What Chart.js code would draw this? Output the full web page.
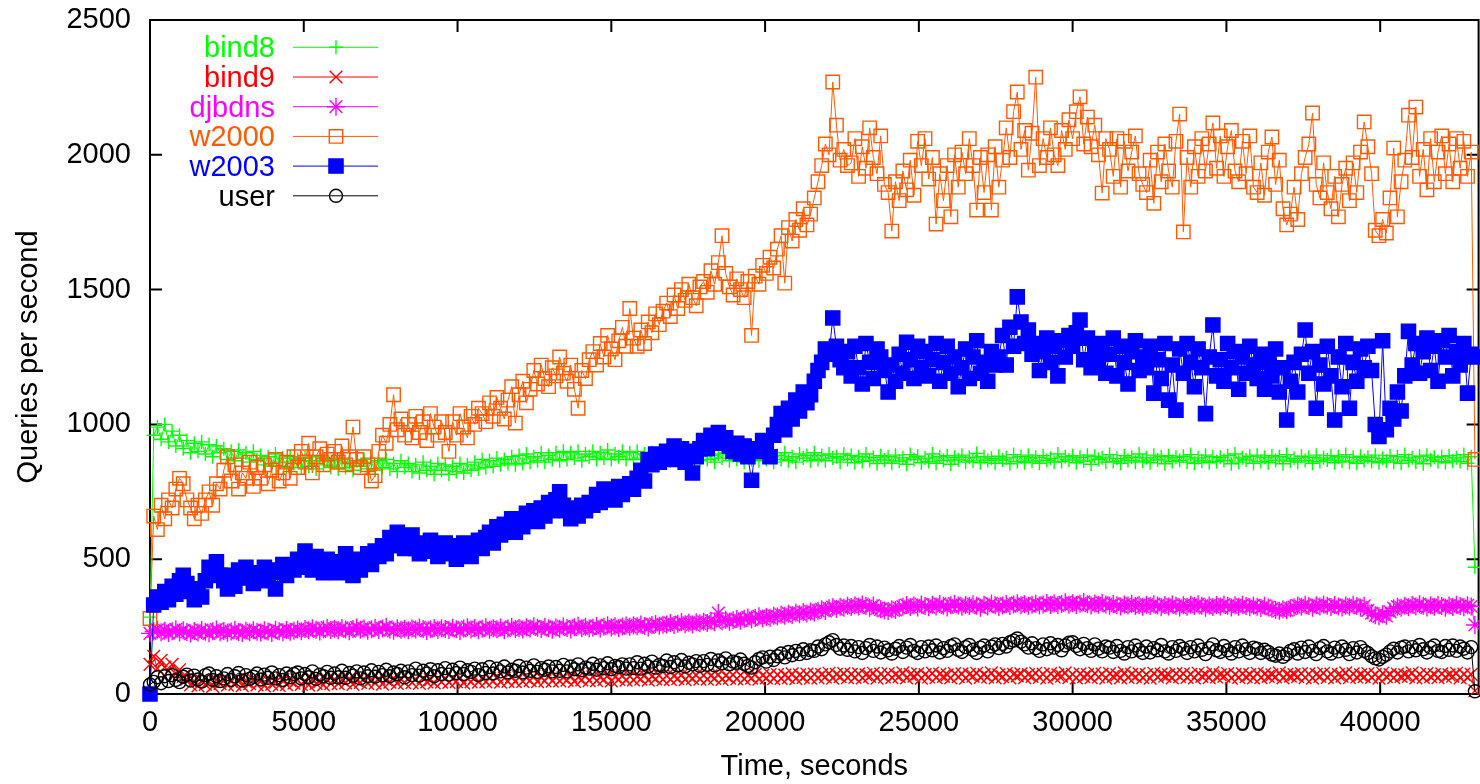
<!DOCTYPE html>
<html>
<head>
<meta charset="utf-8">
<title>DNS queries per second</title>
<script src="https://cdn.jsdelivr.net/npm/chart.js@4.4.1/dist/chart.umd.min.js"></script>
<style>
  html, body { margin: 0; padding: 0; background: #fff; overflow: hidden; }
  #wrap { width: 1490px; height: 784px; }
</style>
</head>
<body>
<div id="wrap"><canvas id="chart" width="1490" height="784"></canvas></div>
<script>
// one sample every 120 s
const sampleStep = 120;
const timeTicks = [0, 5000, 10000, 15000, 20000, 25000, 30000, 35000, 40000];
const rateTicks = [0, 500, 1000, 1500, 2000, 2500];
const seriesNames = ['bind8', 'bind9', 'djbdns', 'w2000', 'w2003', 'user'];

const bind8 = [
  285, 960, 990, 945, 1000, 935, 975, 920, 960, 910,
  940, 895, 930, 900, 935, 890, 925, 880, 920, 895,
  910, 870, 900, 865, 905, 875, 895, 860, 900, 870,
  885, 850, 880, 845, 890, 860, 875, 840, 880, 855,
  870, 840, 875, 845, 865, 835, 880, 850, 870, 840,
  865, 835, 870, 840, 860, 830, 865, 845, 870, 835,
  860, 830, 865, 840, 870, 835, 855, 825, 865, 840,
  855, 825, 850, 820, 860, 830, 845, 815, 855, 830,
  850, 815, 845, 825, 855, 820, 850, 830, 860, 835,
  870, 840, 865, 845, 875, 850, 870, 855, 880, 850,
  885, 855, 890, 860, 880, 865, 895, 860, 885, 870,
  895, 865, 900, 870, 895, 875, 900, 865, 890, 880,
  900, 870, 895, 875, 905, 870, 890, 880, 900, 870,
  895, 870, 900, 875, 890, 865, 895, 880, 900, 870,
  890, 865, 895, 870, 885, 860, 895, 875, 890, 865,
  895, 870, 885, 860, 890, 875, 895, 865, 885, 870,
  890, 860, 885, 870, 895, 865, 880, 870, 890, 860,
  885, 870, 895, 865, 880, 860, 890, 875, 885, 865,
  895, 870, 885, 865, 890, 875, 880, 860, 890, 870,
  885, 858, 880, 862, 890, 866, 878, 855, 884, 868,
  880, 856, 886, 864, 876, 852, 888, 870, 882, 858,
  875, 862, 890, 856, 880, 866, 884, 852, 878, 868,
  886, 860, 878, 864, 892, 858, 880, 866, 874, 856,
  882, 868, 876, 854, 888, 862, 880, 858, 886, 864,
  878, 856, 884, 866, 874, 860, 890, 862, 880, 868,
  884, 858, 878, 864, 886, 852, 882, 870, 876, 860,
  888, 862, 874, 856, 884, 866, 878, 860, 890, 864,
  876, 858, 886, 868, 880, 854, 884, 862, 878, 866,
  882, 860, 888, 856, 876, 864, 886, 858, 880, 862,
  878, 866, 884, 854, 890, 860, 876, 868, 882, 856,
  886, 862, 878, 858, 884, 866, 880, 854, 888, 864,
  874, 860, 882, 866, 878, 856, 886, 862, 876, 868,
  884, 858, 880, 864, 888, 860, 878, 856, 882, 866,
  878, 862, 886, 858, 874, 864, 884, 860, 880, 856,
  888, 866, 876, 860, 882, 854, 886, 868, 878, 862,
  880, 858, 884, 864, 876, 862, 888, 856, 880, 470
];

const bind9 = [
  110, 140, 95, 125, 100, 85, 110, 75, 90, 65,
  55, 34, 48, 30, 50, 36, 46, 28, 52, 38,
  50, 33, 47, 36, 54, 31, 45, 38, 52, 34,
  48, 30, 51, 37, 44, 32, 53, 35, 49, 40,
  52, 36, 49, 33, 55, 39, 46, 34, 54, 38,
  55, 38, 52, 41, 57, 36, 50, 43, 56, 39,
  54, 40, 58, 37, 52, 44, 59, 39, 55, 42,
  57, 42, 55, 39, 60, 45, 53, 41, 58, 44,
  59, 43, 56, 46, 61, 40, 57, 45, 62, 44,
  60, 45, 58, 48, 63, 44, 59, 47, 64, 46,
  62, 47, 60, 50, 65, 46, 61, 49, 66, 48,
  63, 49, 61, 51, 66, 47, 62, 52, 67, 50,
  64, 50, 62, 53, 68, 49, 63, 54, 67, 51,
  66, 52, 64, 55, 70, 51, 65, 56, 69, 53,
  68, 54, 66, 57, 71, 53, 67, 58, 70, 55,
  69, 55, 67, 58, 72, 54, 68, 59, 71, 56,
  70, 56, 68, 59, 73, 55, 69, 60, 72, 57,
  72, 58, 70, 61, 75, 57, 71, 62, 74, 59,
  74, 60, 72, 63, 77, 59, 73, 64, 76, 61,
  73, 62, 75, 60, 71, 65, 77, 59, 74, 63,
  76, 61, 72, 64, 78, 60, 73, 66, 75, 59,
  72, 63, 77, 61, 74, 65, 71, 60, 76, 64,
  75, 59, 73, 66, 77, 62, 72, 63, 78, 60,
  71, 64, 76, 60, 73, 67, 75, 61, 72, 65,
  77, 62, 74, 59, 76, 63, 71, 66, 78, 61,
  73, 60, 75, 64, 72, 61, 77, 63, 74, 59,
  76, 65, 71, 60, 78, 62, 73, 64, 75, 61,
  72, 59, 77, 63, 74, 66, 71, 60, 76, 64,
  75, 62, 73, 60, 77, 65, 72, 61, 78, 63,
  71, 66, 76, 59, 73, 62, 75, 64, 72, 60,
  77, 61, 74, 65, 71, 63, 78, 60, 73, 66,
  72, 64, 76, 61, 75, 59, 73, 65, 77, 62,
  74, 60, 72, 66, 78, 61, 75, 63, 71, 64,
  76, 62, 73, 59, 77, 64, 72, 61, 74, 65,
  71, 65, 78, 60, 73, 62, 76, 64, 72, 61,
  75, 63, 71, 66, 77, 60, 74, 62, 73, 12
];

const djbdns = [
  225, 232, 238, 229, 235, 226, 233, 240, 228, 236,
  230, 224, 234, 228, 237, 231, 225, 233, 239, 229,
  234, 227, 232, 238, 230, 226, 235, 229, 236, 231,
  228, 236, 232, 226, 238, 233, 229, 237, 231, 235,
  239, 233, 241, 236, 244, 238, 232, 240, 246, 237,
  242, 236, 245, 239, 233, 241, 247, 238, 243, 235,
  240, 246, 237, 243, 249, 239, 235, 244, 238, 242,
  236, 243, 239, 247, 241, 234, 240, 245, 238, 244,
  241, 237, 246, 240, 234, 243, 248, 239, 245, 236,
  242, 248, 238, 244, 240, 247, 236, 243, 249, 241,
  245, 239, 248, 243, 251, 246, 240, 249, 244, 238,
  247, 242, 250, 245, 239, 248, 253, 244, 249, 243,
  246, 252, 243, 249, 255, 247, 251, 244, 250, 254,
  249, 255, 251, 258, 252, 247, 256, 260, 253, 257,
  258, 263, 256, 261, 267, 259, 264, 258, 266, 262,
  268, 263, 272, 266, 300, 270, 275, 268, 274, 278,
  272, 279, 284, 276, 282, 288, 280, 286, 283, 290,
  287, 294, 290, 298, 293, 301, 296, 304, 299, 306,
  302, 309, 314, 308, 318, 322, 315, 324, 320, 327,
  323, 329, 325, 332, 326, 320, 328, 318, 314, 310,
  308, 314, 312, 319, 324, 330, 323, 328, 321, 332,
  326, 322, 331, 325, 334, 327, 321, 329, 335, 328,
  324, 330, 326, 333, 327, 320, 331, 325, 336, 329,
  323, 328, 334, 326, 332, 337, 329, 333, 327, 331,
  335, 328, 332, 338, 330, 336, 329, 334, 340, 331,
  337, 330, 335, 341, 333, 328, 336, 331, 338, 332,
  327, 334, 329, 325, 332, 328, 335, 326, 330, 324,
  331, 326, 333, 328, 322, 330, 325, 332, 327, 321,
  329, 324, 331, 326, 333, 327, 320, 328, 323, 330,
  325, 332, 327, 321, 329, 324, 331, 326, 322, 328,
  324, 319, 327, 321, 316, 312, 309, 314, 311, 318,
  322, 328, 324, 331, 326, 320, 329, 325, 332, 327,
  323, 330, 325, 321, 328, 324, 331, 326, 320, 327,
  310, 300, 292, 288, 296, 290, 305, 318, 324, 320,
  327, 322, 330, 325, 333, 327, 321, 329, 324, 331,
  326, 320, 328, 323, 331, 326, 322, 329, 325, 256
];

const w2000 = [
  280, 660, 610, 700, 650, 720, 690, 760, 800, 780,
  720, 690, 650, 700, 670, 720, 750, 700, 780, 760,
  830, 880, 790, 850, 760, 820, 800, 860, 770, 840,
  800, 850, 780, 830, 870, 790, 820, 860, 800, 880,
  840, 900, 860, 930, 820, 880, 910, 850, 890, 870,
  900, 860, 920, 850, 880, 990, 870, 840, 880, 850,
  790, 810, 900, 960, 930, 1000, 1110, 980, 1020, 960,
  1000, 950, 1030, 970, 1010, 940, 1040, 990, 960, 1010,
  970, 900, 1010, 960, 1040, 990, 950, 1030, 1000, 1060,
  1040, 1010, 1080, 1030, 1100, 1060, 1020, 1090, 1140, 1005,
  1110, 1160, 1080, 1130, 1200, 1150, 1220, 1170, 1140, 1210,
  1180, 1250, 1190, 1160, 1220, 1130, 1060, 1200, 1170, 1240,
  1270, 1220, 1300, 1250, 1330, 1280, 1240, 1310, 1360, 1290,
  1430, 1320, 1290, 1350, 1300, 1380, 1340, 1410, 1370, 1420,
  1450, 1400, 1480, 1430, 1500, 1460, 1520, 1470, 1440, 1510,
  1530, 1490, 1570, 1520, 1600, 1700, 1560, 1510, 1480, 1540,
  1500, 1470, 1530, 1330, 1550, 1520, 1590, 1560, 1620, 1580,
  1650, 1700, 1524, 1730, 1680, 1760, 1720, 1800, 1740, 1780,
  1840, 1900, 1960, 2040, 2000, 2270, 2110, 1980, 2020, 1960,
  1970, 2060, 1920, 2030, 1950, 2100, 1990, 1930, 2070, 1890,
  1860, 1717, 1900, 1830, 1940, 1870, 1980, 1850, 2050, 1960,
  2060, 1910, 1990, 1743, 1930, 1830, 1960, 1770, 2000, 1880,
  2010, 1930, 2060, 1960, 1795, 1990, 1860, 2000, 1795, 2030,
  1880, 1980, 2100, 1990, 2160, 2233, 2020, 2090, 1943, 2080,
  2288, 1960, 2060, 1990, 2100, 2000, 1960, 2090, 2020, 2130,
  2060, 2160, 2215, 2040, 2140, 2030, 2110, 2000, 1858, 2060,
  2020, 1920, 2060, 1880, 2050, 1940, 2010, 2070, 1930, 1890,
  1860, 1980, 1820, 2010, 1900, 2040, 1940, 1880, 2050, 2151,
  1714, 1990, 1880, 2030, 1920, 2060, 1940, 2040, 2118, 1950,
  2070, 1920, 2030, 2090, 1940, 1900, 2050, 1930, 2070, 1880,
  1860, 1970, 1850, 2010, 2066, 1890, 1980, 1800, 1740, 1780,
  1880, 1760, 1930, 1990, 2040, 2155, 1890, 1840, 1970, 1860,
  1800, 1920, 1770, 1890, 1950, 1830, 1970, 1860, 2010, 2122,
  2030, 1930, 1720, 1700, 1760, 1710, 1840, 2025, 1770, 1900,
  1980, 2147, 1990, 2177, 1920, 2020, 1870, 2060, 1900, 2010,
  2070, 1930, 2040, 1900, 2060, 1950, 2050, 1920, 2010, 870
];

const w2003 = [
  0, 330, 360, 340, 380, 350, 400, 370, 420, 440,
  410, 380, 350, 390, 360, 420, 470, 450, 490, 440,
  420, 390, 440, 400, 460, 430, 470, 440, 410, 450,
  430, 470, 420, 460, 390, 450, 480, 440, 470, 460,
  500, 470, 530, 490, 460, 510, 480, 450, 500, 470,
  490, 450, 480, 520, 470, 440, 500, 460, 490, 520,
  480, 530, 510, 550, 520, 580, 550, 600, 570, 540,
  560, 590, 540, 520, 560, 530, 570, 550, 510, 540,
  560, 520, 550, 500, 540, 560, 530, 510, 550, 570,
  540, 580, 600, 560, 620, 590, 630, 610, 650, 600,
  640, 620, 670, 650, 680, 640, 690, 660, 710, 680,
  720, 750, 700, 680, 650, 690, 660, 700, 680, 710,
  700, 740, 710, 760, 730, 750, 720, 770, 740, 760,
  780, 760, 800, 830, 790, 870, 850, 890, 860, 880,
  900, 870, 920, 890, 910, 860, 900, 820, 880, 910,
  940, 910, 960, 930, 970, 940, 950, 920, 900, 930,
  890, 920, 880, 793, 910, 900, 940, 920, 880, 960,
  1000, 1040, 980, 1060, 1020, 1090, 1050, 1120, 1080, 1110,
  1160, 1200, 1230, 1280, 1260, 1395, 1290, 1240, 1210, 1270,
  1180, 1290, 1210, 1150, 1300, 1230, 1170, 1280, 1250, 1200,
  1120, 1220, 1160, 1260, 1190, 1305, 1240, 1170, 1290, 1210,
  1270, 1180, 1240, 1300, 1160, 1230, 1290, 1190, 1250, 1140,
  1210, 1280, 1170, 1250, 1310, 1190, 1230, 1160, 1270, 1220,
  1250, 1330, 1220, 1360, 1290, 1473, 1380, 1300, 1350, 1260,
  1300, 1200, 1270, 1320, 1230, 1290, 1180, 1310, 1250, 1330,
  1290, 1340, 1387, 1240, 1320, 1210, 1280, 1230, 1300, 1190,
  1260, 1320, 1180, 1290, 1230, 1150, 1270, 1310, 1200, 1250,
  1210, 1290, 1116, 1240, 1170, 1300, 1090, 1220, 1053, 1280,
  1190, 1300, 1230, 1140, 1280, 1210, 1040, 1250, 1369, 1180,
  1240, 1160, 1300, 1210, 1270, 1130, 1250, 1190, 1290, 1220,
  1170, 1260, 1130, 1230, 1180, 1280, 1120, 1210, 1016, 1160,
  1230, 1120, 1260, 1350, 1190, 1270, 1060, 1220, 1150, 1290,
  1180, 1016, 1250, 1140, 1300, 1060, 1230, 1160, 1280, 1210,
  1290, 1200, 1000, 955, 1310, 980, 1060, 1020, 1120, 1050,
  1180, 1345, 1220, 1300, 1190, 1270, 1320, 1200, 1290, 1160,
  1310, 1250, 1330, 1180, 1270, 1220, 1300, 1116, 1260, 1250
];

const user = [
  35, 45, 62, 40, 66, 48, 70, 52, 44, 64,
  72, 50, 68, 54, 46, 70, 76, 52, 66, 48,
  58, 74, 52, 66, 78, 50, 70, 56, 64, 76,
  54, 72, 60, 80, 58, 70, 52, 76, 62, 74,
  80, 58, 74, 62, 84, 56, 72, 66, 82, 60,
  76, 62, 86, 60, 78, 68, 84, 58, 80, 66,
  88, 64, 82, 70, 90, 66, 80, 74, 86, 62,
  84, 70, 94, 68, 86, 76, 92, 66, 88, 74,
  96, 72, 90, 78, 98, 74, 88, 82, 94, 70,
  92, 78, 100, 76, 94, 84, 102, 80, 90, 86,
  104, 80, 98, 86, 106, 82, 96, 90, 102, 84,
  100, 86, 108, 84, 102, 92, 110, 88, 98, 94,
  112, 90, 106, 96, 114, 92, 104, 100, 110, 94,
  110, 96, 118, 94, 112, 102, 120, 98, 108, 104,
  124, 100, 118, 106, 126, 102, 116, 110, 122, 104,
  122, 108, 130, 106, 124, 114, 132, 110, 120, 116,
  128, 112, 104, 98, 118, 130, 136, 120, 138, 126,
  140, 150, 136, 156, 144, 160, 148, 166, 152, 162,
  160, 176, 166, 184, 192, 200, 182, 168, 180, 164,
  178, 158, 174, 152, 170, 182, 160, 176, 154, 172,
  162, 150, 168, 178, 156, 172, 182, 160, 152, 174,
  158, 176, 162, 180, 154, 170, 160, 178, 184, 164,
  156, 174, 182, 164, 152, 172, 180, 158, 176, 184,
  170, 186, 176, 192, 198, 206, 194, 184, 172, 188,
  170, 160, 184, 166, 188, 172, 182, 162, 180, 190,
  192, 178, 166, 186, 170, 160, 184, 168, 158, 176,
  172, 156, 178, 160, 150, 174, 158, 180, 164, 152,
  176, 154, 170, 162, 182, 158, 150, 174, 160, 178,
  168, 152, 174, 158, 180, 164, 148, 170, 184, 162,
  156, 178, 162, 150, 174, 158, 180, 166, 152, 172,
  168, 152, 164, 156, 146, 142, 150, 138, 148, 160,
  166, 150, 172, 156, 176, 160, 148, 170, 178, 158,
  150, 172, 158, 176, 164, 148, 170, 154, 174, 160,
  152, 140, 132, 128, 138, 146, 158, 168, 154, 172,
  176, 158, 174, 162, 182, 166, 154, 172, 180, 160,
  156, 178, 164, 180, 160, 176, 168, 154, 174, 10
];

const seriesValues = [bind8, bind9, djbdns, w2000, w2003, user];

// look of each series (gnuplot point types)
const seriesColors = ['#00ff00', '#ff0000', '#ff00ff', '#ff5a00', '#0000ff', '#000000'];
const seriesPoints = ['cross', 'crossRot', 'star', 'rect', 'rect', 'circle'];
const seriesRadius = [7, 9, 9, 9.5, 10, 6.5];
const seriesFilled = [false, false, false, false, true, false];

const FONT = "'Liberation Sans', Arial, Helvetica, sans-serif";
Chart.defaults.font.family = FONT;
Chart.defaults.font.size = 29;
Chart.defaults.color = '#000';

function toPoints(values) {
  return values.map((v, i) => ({ x: i * sampleStep, y: v }));
}

const datasets = seriesNames.map((name, i) => ({
  label: name,
  data: toPoints(seriesValues[i]),
  borderColor: seriesColors[i],
  backgroundColor: seriesFilled[i] ? seriesColors[i] : 'rgba(0,0,0,0)',
  borderWidth: 1,
  pointStyle: seriesPoints[i],
  pointRadius: seriesRadius[i],
  pointBorderWidth: 1.4,
  pointBorderColor: seriesColors[i],
  pointBackgroundColor: seriesFilled[i] ? seriesColors[i] : 'rgba(0,0,0,0)',
  tension: 0,
  clip: false,
  order: seriesNames.length - i
}));

// box and inward tick marks on all four sides, gnuplot style
const frame = {
  id: 'frame',
  beforeDatasetsDraw(chart) {
    const { ctx, chartArea: a, scales: { x, y } } = chart;
    const len = 12;
    ctx.save();
    ctx.strokeStyle = '#000';
    ctx.lineWidth = 2;
    ctx.strokeRect(a.left, a.top, a.right - a.left, a.bottom - a.top);
    ctx.beginPath();
    x.ticks.forEach(t => {
      const px = x.getPixelForValue(t.value);
      ctx.moveTo(px, a.bottom); ctx.lineTo(px, a.bottom - len);
      ctx.moveTo(px, a.top); ctx.lineTo(px, a.top + len);
    });
    y.ticks.forEach(t => {
      const py = y.getPixelForValue(t.value);
      ctx.moveTo(a.left, py); ctx.lineTo(a.left + len, py);
      ctx.moveTo(a.right, py); ctx.lineTo(a.right - len, py);
    });
    ctx.stroke();
    ctx.restore();
  }
};

// key in the top left corner: label on the left, sample line + point on the right
const key = {
  id: 'key',
  afterDraw(chart) {
    const ctx = chart.ctx;
    const textRight = 275, lineFrom = 293, lineTo = 378, pointX = 336;
    const firstRow = 47.3, rowGap = 29.7;
    ctx.save();
    ctx.font = '29px ' + FONT;
    ctx.textAlign = 'right';
    ctx.textBaseline = 'alphabetic';
    chart.data.datasets.forEach((ds, i) => {
      const yRow = firstRow + i * rowGap;
      ctx.fillStyle = ds.borderColor;
      ctx.fillText(ds.label, textRight, yRow + 10);
      ctx.strokeStyle = ds.borderColor;
      ctx.lineWidth = 1;
      ctx.beginPath();
      ctx.moveTo(lineFrom, yRow);
      ctx.lineTo(lineTo, yRow);
      ctx.stroke();
      ctx.fillStyle = ds.pointBackgroundColor;
      ctx.lineWidth = ds.pointBorderWidth;
      Chart.helpers.drawPoint(ctx, {
        pointStyle: ds.pointStyle, radius: ds.pointRadius, rotation: 0, borderWidth: ds.pointBorderWidth
      }, pointX, yRow);
    });
    ctx.restore();
  }
};

new Chart(document.getElementById('chart'), {
  type: 'line',
  data: { datasets },
  plugins: [frame, key],
  options: {
    responsive: false,
    animation: false,
    events: [],
    layout: { padding: { top: 20, right: 6, bottom: 0, left: 0 } },
    plugins: { legend: { display: false }, tooltip: { enabled: false } },
    scales: {
      x: {
        type: 'linear',
        min: 0,
        max: 43200,
        grid: { display: false, drawTicks: false },
        border: { display: false },
        afterBuildTicks: s => { s.ticks = timeTicks.map(v => ({ value: v })); },
        afterFit: s => { s.height = 90; s.paddingLeft = 0; s.paddingRight = 0; },
        ticks: { padding: 12, autoSkip: false, maxRotation: 0, callback: v => String(v) },
        title: { display: true, text: 'Time, seconds', padding: { top: 0, bottom: 0 } }
      },
      y: {
        type: 'linear',
        min: 0,
        max: 2500,
        grid: { display: false, drawTicks: false },
        border: { display: false },
        afterBuildTicks: s => { s.ticks = rateTicks.map(v => ({ value: v })); },
        afterFit: s => { s.width = 150; s.paddingTop = 0; s.paddingBottom = 0; },
        ticks: { padding: 19, callback: v => String(v) },
        title: { display: true, text: 'Queries per second', padding: { top: 12, bottom: 0 } }
      }
    }
  }
});
</script>
</body>
</html>
